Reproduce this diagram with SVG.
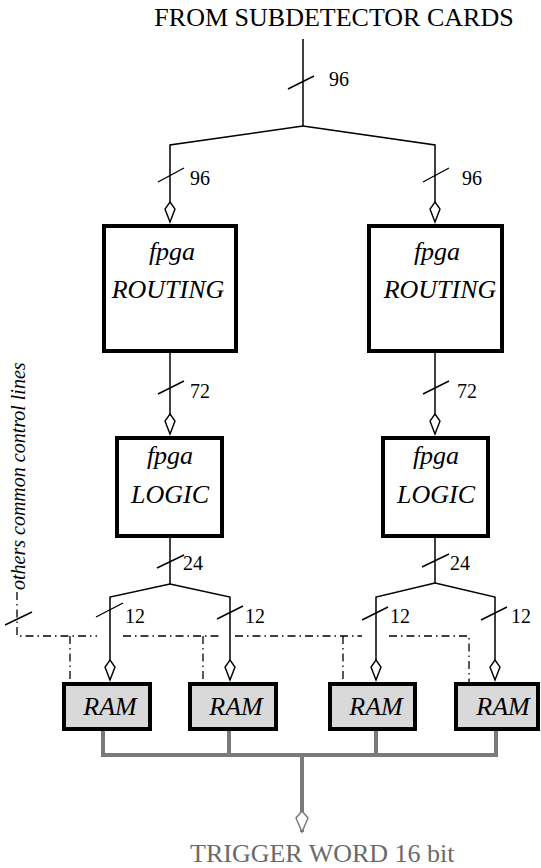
<svg xmlns="http://www.w3.org/2000/svg" width="541" height="868" viewBox="0 0 541 868">
<style>
text{font-family:"Liberation Serif","Tinos","Times New Roman","Nimbus Roman","DejaVu Serif",serif}
.t{fill:#000}
.ti{font-style:italic;fill:#000}
.big{font-size:26px}
.lab{font-size:20px}
.gray{fill:#6a6a6a}
.ln{fill:none;stroke:#000;stroke-width:1.5}
.sl{fill:none;stroke:#000;stroke-width:1.4}
.dd{fill:none;stroke:#000;stroke-width:1.3;stroke-dasharray:8 4 1.5 4}
.box{fill:#fff;stroke:#000;stroke-width:4}
.ram{fill:#d9d9d9;stroke:#000;stroke-width:4}
.bus{fill:none;stroke:#7a7a7a;stroke-width:4}
</style>
<defs>
<marker id="ah" markerUnits="userSpaceOnUse" viewBox="-1 -7 23 14" refX="20" refY="0" markerWidth="23" markerHeight="14" orient="auto">
<path d="M0,0 L7,-5 L20,0 L7,5 Z" fill="#fff" stroke="#000" stroke-width="1.4"/>
</marker>
<marker id="ahg" markerUnits="userSpaceOnUse" viewBox="-1 -8 24 16" refX="21" refY="0" markerWidth="24" markerHeight="16" orient="auto">
<path d="M0,0 L7,-6 L21,0 L7,6 Z" fill="#fff" stroke="#7a7a7a" stroke-width="1.5"/>
</marker>
</defs>
<rect width="541" height="868" fill="#fff"/>
<text class="t big" x="334" y="26" text-anchor="middle">FROM SUBDETECTOR CARDS</text>

<g id="connectors">
<path class="ln" d="M303,39 V126"/>
<path class="ln" d="M303,126 L170,145 V222" marker-end="url(#ah)"/>
<path class="ln" d="M303,126 L435,145 V222" marker-end="url(#ah)"/>
<path class="ln" d="M170,353 V434" marker-end="url(#ah)"/>
<path class="ln" d="M435,353 V434" marker-end="url(#ah)"/>
<path class="ln" d="M170,538 V584"/>
<path class="ln" d="M170,584 L110,597 V680" marker-end="url(#ah)"/>
<path class="ln" d="M170,584 L230,597 V680" marker-end="url(#ah)"/>
<path class="ln" d="M435,538 V583"/>
<path class="ln" d="M435,583 L376,597 V680" marker-end="url(#ah)"/>
<path class="ln" d="M435,583 L495,597 V680" marker-end="url(#ah)"/>
<path class="sl" d="M288,89 L314,76"/>
<path class="sl" d="M158,182 L184,168"/>
<path class="sl" d="M423,182 L449,168"/>
<path class="sl" d="M158,394 L184,381"/>
<path class="sl" d="M423,394 L449,381"/>
<path class="sl" d="M157,568 L184,555"/>
<path class="sl" d="M422,567 L449,554"/>
<path class="sl" d="M96,617 L123,603"/>
<path class="sl" d="M217,619 L243,606"/>
<path class="sl" d="M362,620 L388,607"/>
<path class="sl" d="M481,620 L507,607"/>
<path class="sl" d="M5,625 L32,612"/>
<path class="dd" d="M17,592 V636 H97"/>
<path class="dd" d="M123,636 H222"/>
<path class="dd" d="M235,636 H362"/>
<path class="dd" d="M389,636 H469 V682"/>
<path class="dd" d="M70,636 V682"/>
<path class="dd" d="M203,636 V682"/>
<path class="dd" d="M343,636 V682"/>
<path class="bus" d="M103,731 V755 H496 V731"/>
<path class="bus" d="M229,731 V755"/>
<path class="bus" d="M376,731 V755"/>
<path class="bus" d="M302,755 V832" marker-end="url(#ahg)"/>
</g>

<g id="labels">
<text class="t lab" x="329" y="86">96</text>
<text class="t lab" x="190" y="185">96</text>
<text class="t lab" x="462" y="185">96</text>
<text class="t lab" x="190" y="398">72</text>
<text class="t lab" x="457" y="398">72</text>
<text class="t lab" x="183" y="570">24</text>
<text class="t lab" x="450" y="570">24</text>
<text class="t lab" x="125" y="623">12</text>
<text class="t lab" x="245" y="623">12</text>
<text class="t lab" x="390" y="623">12</text>
<text class="t lab" x="511" y="623">12</text>
<text class="ti lab" transform="translate(25,590) rotate(-90)">others common control lines</text>
</g>

<g id="routing-left">
<rect class="box" x="104" y="226" width="132" height="125"/>
<text class="ti big" x="172" y="260" text-anchor="middle">fpga</text>
<text class="ti big" x="168" y="298" text-anchor="middle">ROUTING</text>
</g>
<g id="routing-right">
<rect class="box" x="369" y="226" width="133" height="125"/>
<text class="ti big" x="437" y="260" text-anchor="middle">fpga</text>
<text class="ti big" x="440" y="298" text-anchor="middle">ROUTING</text>
</g>
<g id="logic-left">
<rect class="box" x="117" y="438" width="105" height="98"/>
<text class="ti big" x="170" y="464" text-anchor="middle">fpga</text>
<text class="ti big" x="170" y="503" text-anchor="middle">LOGIC</text>
</g>
<g id="logic-right">
<rect class="box" x="383" y="438" width="105" height="98"/>
<text class="ti big" x="436" y="464" text-anchor="middle">fpga</text>
<text class="ti big" x="436" y="503" text-anchor="middle">LOGIC</text>
</g>
<g id="ram-1">
<rect class="ram" x="64" y="684" width="86" height="45"/>
<text class="ti big" x="110" y="715" text-anchor="middle">RAM</text>
</g>
<g id="ram-2">
<rect class="ram" x="190" y="684" width="86" height="45"/>
<text class="ti big" x="236" y="715" text-anchor="middle">RAM</text>
</g>
<g id="ram-3">
<rect class="ram" x="330" y="684" width="85" height="45"/>
<text class="ti big" x="376" y="715" text-anchor="middle">RAM</text>
</g>
<g id="ram-4">
<rect class="ram" x="456" y="684" width="82" height="45"/>
<text class="ti big" x="503" y="715" text-anchor="middle">RAM</text>
</g>
<g id="output">
<text class="t big gray" x="190" y="862">TRIGGER WORD 16 bit</text>
</g>
</svg>
